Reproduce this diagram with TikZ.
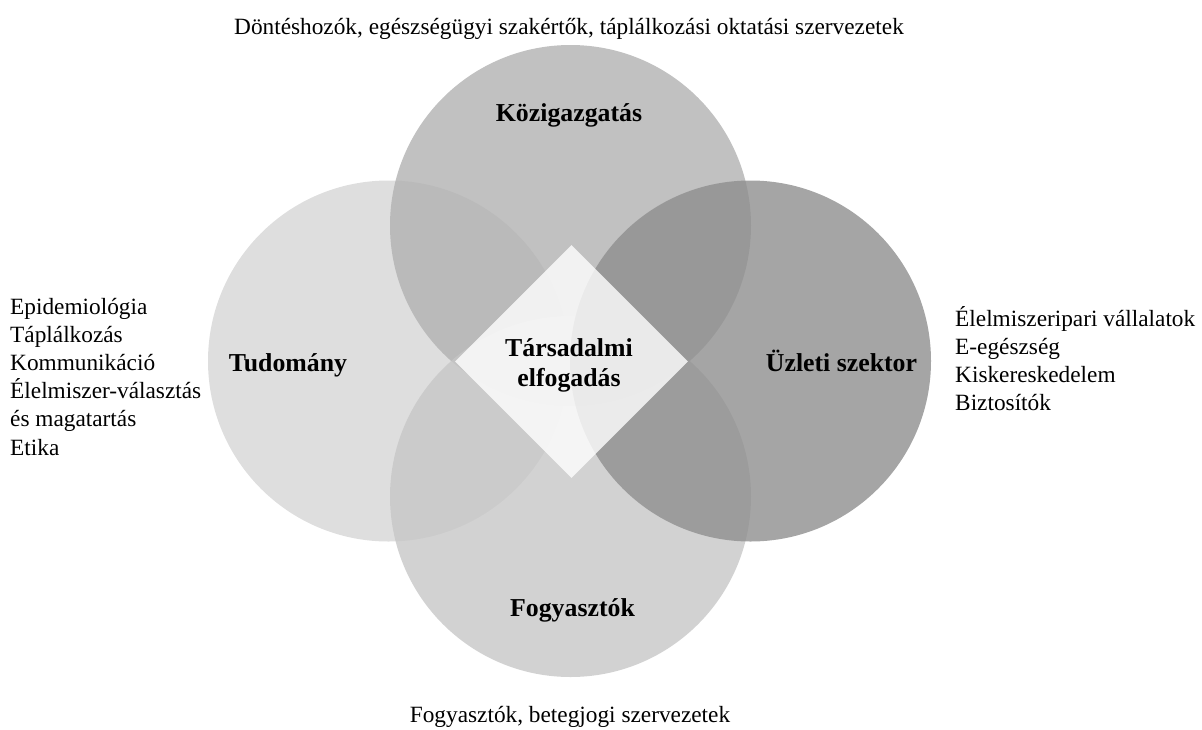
\documentclass[tikz,border=0pt]{standalone}
\usepackage{fontspec}
\setmainfont{Liberation Serif}
\usetikzlibrary{shapes.geometric}
% circle tones (drawn at 80% opacity)
\definecolor{toneSci}{gray}{0.839}
\definecolor{toneGov}{gray}{0.696}
\definecolor{toneCons}{gray}{0.780}
\definecolor{toneBiz}{gray}{0.559}
\begin{document}
\begin{tikzpicture}[x=1pt,y=-1pt,
  venn/.style={circle, minimum size=361pt, inner sep=0pt, fill opacity=0.8},
  sector/.style={font=\fontsize{25.8}{30}\selectfont\bfseries, inner sep=0pt, anchor=base},
  note/.style={font=\fontsize{23.3}{28}\selectfont, inner sep=0pt},
]
\useasboundingbox (0,0) rectangle (1202,729);

% the four overlapping sectors
\node[venn, fill=toneSci]  (sci)  at (388.5,361)   {};
\node[venn, fill=toneGov]  (gov)  at (570.5,225.5) {};
\node[venn, fill=toneCons] (cons) at (570.5,496.5) {};
\node[venn, fill=toneBiz]  (biz)  at (750.5,361)   {};

% central diamond
\node[diamond, minimum width=233pt, minimum height=233pt, inner sep=0pt,
      fill=white, fill opacity=0.8] (accept) at (571.5,361.5) {};

% sector titles
\node[sector] (govlabel)  at (569,121.7)   {Közigazgatás};
\node[sector] (scilabel)  at (288,371.7)   {Tudomány};
\node[sector] (bizlabel)  at (841.5,371.7) {Üzleti szektor};
\node[sector] (conslabel) at (572.5,616.7) {Fogyasztók};
\node[sector] (acc1) at (569,356.7) {Társadalmi};
\node[sector] (acc2) at (569,386.7) {elfogadás};

% stakeholder notes
\node[note, anchor=base] (govnote) at (569,34)
  {Döntéshozók, egészségügyi szakértők, táplálkozási oktatási szervezetek};
\node[note, anchor=base] (consnote) at (570,722)
  {Fogyasztók, betegjogi szervezetek};

\foreach \t [count=\i] in {Epidemiológia, Táplálkozás, Kommunikáció,
    Élelmiszer-választás, és magatartás, Etika}
  \node[note, anchor=base west] (scinote\i) at (10,{314+28.2*(\i-1)}) {\t};

\foreach \t [count=\i] in {Élelmiszeripari vállalatok, E-egészség,
    Kiskereskedelem, Biztosítók}
  \node[note, anchor=base west] (biznote\i) at (955,{326+28*(\i-1)}) {\t};
\end{tikzpicture}
\end{document}
